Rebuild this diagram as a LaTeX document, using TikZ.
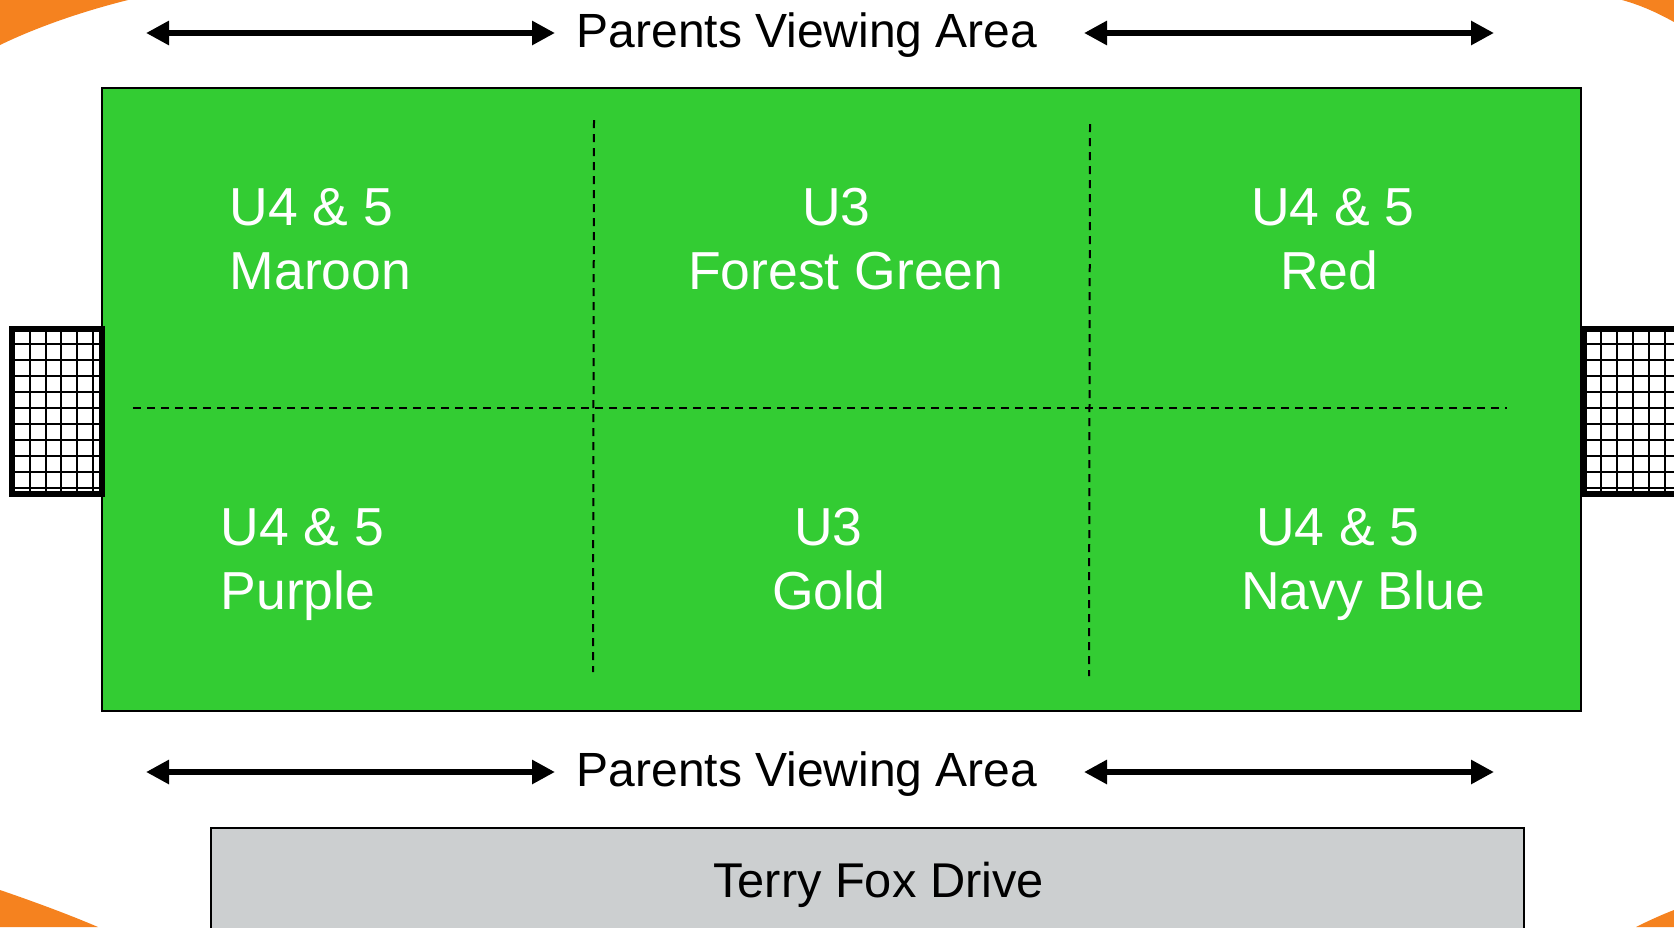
\documentclass[tikz,border=0pt]{standalone}
\usepackage{fontspec}
\setmainfont{Liberation Sans}
\usetikzlibrary{arrows.meta}
\definecolor{fieldgreen}{RGB}{51,204,51}
\definecolor{roadgray}{RGB}{204,207,208}
\definecolor{ringorange}{RGB}{245,130,31}
\newcommand\lblfont{\fontsize{48}{57}\selectfont}
\newcommand\roadfont{\fontsize{48.8}{58}\selectfont}
\newcommand\znfont{\fontsize{53.5}{64}\selectfont}
\begin{document}
\begin{tikzpicture}[x=1pt,y=-1pt,
  bigarrow/.style={line width=6pt,{Triangle[length=23pt,width=23pt]}-{Triangle[length=23pt,width=23pt]}},
  divider/.style={line width=2pt,dash pattern=on 8pt off 6pt},
  gridline/.style={line width=2pt,black},
  goalframe/.style={line width=6pt,black},
  zone/.style={text=white,font=\znfont,inner sep=0pt,anchor=base west},
  viewlabel/.style={font=\lblfont,inner sep=0pt,anchor=base}]
\useasboundingbox (0,0) rectangle (1674,927);
\fill[white] (0,0) rectangle (1674,927);
% orange ring corners
\fill[ringorange] (0,0) -- (128,0) .. controls (80,12) and (35,28) .. (0,45) -- cycle;
\fill[ringorange] (1622,0) -- (1674,0) -- (1674,22) .. controls (1656,12) and (1640,5) .. (1622,0) -- cycle;
\fill[ringorange] (0,890) .. controls (35,902) and (70,915) .. (98,927) -- (0,927) -- cycle;
\fill[ringorange] (1674,910) -- (1674,927) -- (1636,927) .. controls (1648,921) and (1661,915) .. (1674,910) -- cycle;
% field
\filldraw[fill=fieldgreen,draw=black,line width=2pt] (102,88) rectangle (1581,711);
% dividers
\draw[divider] (594,120) -- (593,672);
\draw[divider] (1090,124) -- (1089,676);
\draw[divider] (133,408) -- (1507,408);
% left goal
\fill[white] (9,326) rectangle (105,497);
\foreach \x in {30,45.5,61,77,93} \draw[gridline] (\x,326) -- (\x,497);
\foreach \y in {344,360,...,489} \draw[gridline] (9,\y) -- (105,\y);
\draw[goalframe] (12,329) rectangle (102,494);
% right goal
\fill[white] (1581,326) rectangle (1690,497);
\foreach \x in {1601,1617,1633,1649,1665} \draw[gridline] (\x,326) -- (\x,497);
\foreach \y in {344,360,...,489} \draw[gridline] (1581,\y) -- (1690,\y);
\draw[goalframe] (1584,329) rectangle (1700,494);
% road
\filldraw[fill=roadgray,draw=black,line width=2pt] (211,828) rectangle (1524,940);
\node[font=\roadfont,inner sep=0pt,anchor=base west] (road) at (713,897) {Terry Fox Drive};
% viewing labels and arrows
\node[viewlabel] (viewtop) at (807,47) {Parents Viewing Area};
\node[viewlabel] (viewbot) at (807,786) {Parents Viewing Area};
\coordinate (ta1) at (146,33); \coordinate (ta2) at (555,33);
\coordinate (ta3) at (1084,33); \coordinate (ta4) at (1494,33);
\coordinate (ba1) at (146,772); \coordinate (ba2) at (555,772);
\coordinate (ba3) at (1084,772); \coordinate (ba4) at (1494,772);
\draw[bigarrow] (ta1) -- (ta2);
\draw[bigarrow] (ta3) -- (ta4);
\draw[bigarrow] (ba1) -- (ba2);
\draw[bigarrow] (ba3) -- (ba4);
% zone labels
\node[zone] (z1a) at (229.5,225) {U4 \& 5};
\node[zone] (z1b) at (229.5,289) {Maroon};
\node[zone] (z2a) at (802,225) {U3};
\node[zone] (z2b) at (688,289) {Forest Green};
\node[zone] (z3a) at (1251,225) {U4 \& 5};
\node[zone] (z3b) at (1280,289) {Red};
\node[zone] (z4a) at (220.5,545) {U4 \& 5};
\node[zone] (z4b) at (220.5,609) {Purple};
\node[zone] (z5a) at (794,545) {U3};
\node[zone] (z5b) at (772,609) {Gold};
\node[zone] (z6a) at (1256,545) {U4 \& 5};
\node[zone] (z6b) at (1241,609) {Navy Blue};
\end{tikzpicture}
\end{document}
